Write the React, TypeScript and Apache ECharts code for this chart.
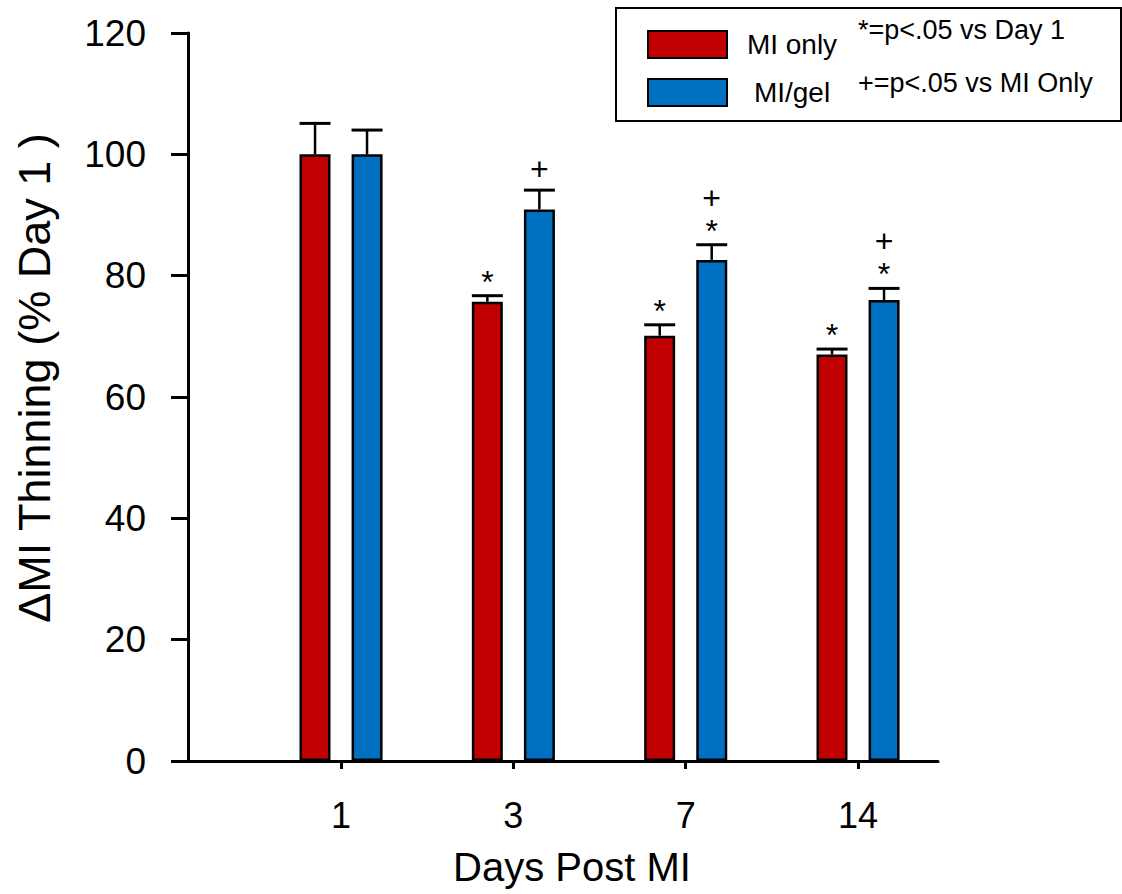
import React, { useEffect, useRef } from "react";
import * as echarts from "echarts";

// Days after myocardial infarction (category positions 0..3 on the x axis)
const days = ["1", "3", "7", "14"];
const dayIndex = [0, 1, 2, 3];

// Wall thinning, % of day-1 value
const miOnlyMean = [100, 75.7, 70.1, 67.0];
const miOnlyUpper = [105.1, 76.7, 71.9, 67.9];
const miGelMean = [100, 90.9, 82.6, 76.0];
const miGelUpper = [104.0, 94.1, 85.1, 77.9];

// Significance marks, listed bottom to top above each error bar
const miOnlyMarks = ["", "*", "*", "*"];
const miGelMarks = ["", "+", "*+", "*+"];

const seriesNames = ["MI only", "MI/gel"];
const legendNotes = ["*=p<.05 vs Day 1", "+=p<.05 vs MI Only"];

const RED = "#C00000";
const BLUE = "#0070C0";
const FONT = "'Liberation Sans', Arial, Helvetica, sans-serif";

const BAR_WIDTH = 31;
const BAR_GAP_PX = 21;
const BAR_OFFSET = (BAR_WIDTH + BAR_GAP_PX) / 2;

// x extent expressed in category units, so the axis line starts at the y axis
const X_MIN = -0.888;
const X_MAX = 3.464;

const MARK_FONT = 32;
const MARK_LINE = 33;

function errorBarRenderer(sign: number, marks: string[]) {
  return (params: any, api: any) => {
    const i = api.value(0);
    const top = api.coord([i, api.value(1)]);
    const cap = api.coord([i, api.value(2)]);
    const x = top[0] + sign * BAR_OFFSET;
    const children: any[] = [
      {
        type: "line",
        shape: { x1: x, y1: top[1], x2: x, y2: cap[1] },
        style: { stroke: "#000", lineWidth: 2.5 },
      },
      {
        type: "line",
        shape: { x1: x - BAR_WIDTH / 2, y1: cap[1], x2: x + BAR_WIDTH / 2, y2: cap[1] },
        style: { stroke: "#000", lineWidth: 3 },
      },
    ];
    const m = marks[params.dataIndex] || "";
    if (m) {
      const chars = m.split("");
      // the asterisk glyph sits high in its line box, so push it down a little
      const dy = chars[0] === "*" ? 8 : 1;
      children.push({
        type: "text",
        x,
        y: cap[1] - 22 + dy + MARK_LINE / 2,
        style: {
          text: chars.slice().reverse().join("\n"),
          fill: "#000",
          font: `${MARK_FONT}px ${FONT}`,
          lineHeight: MARK_LINE,
          align: "center",
          verticalAlign: "bottom",
        },
      });
    }
    return { type: "group", children };
  };
}

export default function App() {
  const ref = useRef<HTMLDivElement>(null);

  useEffect(() => {
    if (!ref.current) return;
    const chart = echarts.init(ref.current, undefined, { renderer: "svg" });

    const option: any = {
      animation: false,
      backgroundColor: "#fff",
      textStyle: { fontFamily: FONT },
      grid: { left: 188, right: 184, top: 33, bottom: 133, containLabel: false },
      legend: {
        data: seriesNames,
        orient: "vertical",
        left: 642,
        top: 25,
        itemWidth: 79,
        itemHeight: 27,
        itemGap: 19,
        icon: "rect",
        selectedMode: false,
        formatter: "{n|{name}}",
        textStyle: {
          fontFamily: FONT,
          fontSize: 28,
          color: "#000",
          rich: {
            n: { width: 120, align: "center", fontSize: 28, fontFamily: FONT, color: "#000" },
          },
        },
      },
      xAxis: {
        type: "value",
        min: X_MIN,
        max: X_MAX,
        splitLine: { show: false },
        axisLine: { show: true, onZero: false, lineStyle: { color: "#000", width: 3 } },
        axisTick: {
          show: true,
          customValues: dayIndex,
          length: 8,
          lineStyle: { color: "#000", width: 3 },
        },
        axisLabel: {
          customValues: dayIndex,
          formatter: (v: number) => days[Math.round(v)] ?? "",
          fontSize: 36,
          fontFamily: FONT,
          color: "#000",
          margin: 36,
        },
        name: "Days Post MI",
        nameLocation: "middle",
        nameGap: 86,
        nameTextStyle: { fontSize: 40, fontFamily: FONT, color: "#000", padding: [0, 0, 0, 18] },
      },
      yAxis: {
        type: "value",
        min: 0,
        max: 120,
        interval: 20,
        splitLine: { show: false },
        axisLine: { show: true, onZero: false, lineStyle: { color: "#000", width: 3 } },
        axisTick: { show: true, inside: false, length: 17, lineStyle: { color: "#000", width: 3 } },
        axisLabel: { fontSize: 37, fontFamily: FONT, color: "#000", margin: 42 },
      },
      graphic: [
        {
          type: "rect",
          left: 615,
          top: 7,
          shape: { width: 505, height: 113 },
          style: { fill: "#fff", stroke: "#000", lineWidth: 2 },
          z: 0,
        },
        {
          type: "text",
          x: 858,
          y: 30,
          style: {
            text: legendNotes[0],
            fill: "#000",
            font: `27px ${FONT}`,
            align: "left",
            verticalAlign: "middle",
          },
          z: 5,
        },
        {
          type: "text",
          x: 858,
          y: 83,
          style: {
            text: legendNotes[1],
            fill: "#000",
            font: `27px ${FONT}`,
            align: "left",
            verticalAlign: "middle",
          },
          z: 5,
        },
        {
          type: "text",
          x: 34,
          y: 378,
          rotation: Math.PI / 2,
          style: {
            text: "ΔMI Thinning (% Day 1 )",
            fill: "#000",
            font: `45px ${FONT}`,
            align: "center",
            verticalAlign: "middle",
          },
          z: 5,
        },
      ],
      series: [
        {
          name: seriesNames[0],
          type: "bar",
          barWidth: BAR_WIDTH,
          barGap: `${Math.round((BAR_GAP_PX / BAR_WIDTH) * 100)}%`,
          data: miOnlyMean.map((v, i) => [dayIndex[i], v]),
          itemStyle: { color: RED, borderColor: "#000", borderWidth: 2.5 },
        },
        {
          name: seriesNames[1],
          type: "bar",
          barWidth: BAR_WIDTH,
          data: miGelMean.map((v, i) => [dayIndex[i], v]),
          itemStyle: { color: BLUE, borderColor: "#000", borderWidth: 2.5 },
        },
        {
          type: "custom",
          renderItem: errorBarRenderer(-1, miOnlyMarks),
          encode: { x: 0, y: [1, 2] },
          data: miOnlyMean.map((v, i) => [dayIndex[i], v, miOnlyUpper[i]]),
          z: 3,
        },
        {
          type: "custom",
          renderItem: errorBarRenderer(1, miGelMarks),
          encode: { x: 0, y: [1, 2] },
          data: miGelMean.map((v, i) => [dayIndex[i], v, miGelUpper[i]]),
          z: 3,
        },
      ],
    };

    chart.setOption(option);
    return () => chart.dispose();
  }, []);

  return (
    <div
      ref={ref}
      style={{ position: "fixed", left: 0, top: 0, width: 1122, height: 894, background: "#fff" }}
    />
  );
}
